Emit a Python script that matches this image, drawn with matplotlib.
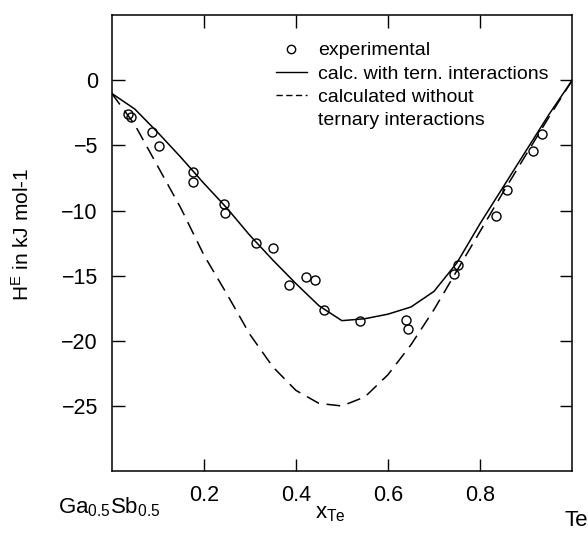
import matplotlib
matplotlib.use("Agg")
from matplotlib import pyplot as plt
from matplotlib.lines import Line2D

plt.rcParams['font.family'] = ['Liberation Sans', 'DejaVu Sans']
plt.rcParams['mathtext.default'] = 'regular'

# experimental points
x_exp = [0.035, 0.042, 0.088, 0.103, 0.177, 0.177, 0.244, 0.246, 0.314, 0.351,
         0.384, 0.422, 0.442, 0.462, 0.539, 0.640, 0.644, 0.744, 0.753, 0.834,
         0.858, 0.916, 0.935]
h_exp = [-2.6, -2.8, -4.0, -5.05, -7.0, -7.8, -9.5, -10.2, -12.5, -12.9,
         -15.7, -15.1, -15.3, -17.6, -18.5, -18.4, -19.1, -14.9, -14.2, -10.4,
         -8.4, -5.4, -4.1]

# calculated with ternary interactions
x_tern = [0, 0.05, 0.1, 0.15, 0.2, 0.25, 0.3, 0.35, 0.4, 0.45, 0.5, 0.55, 0.6,
          0.65, 0.7, 0.75, 0.8, 0.85, 0.9, 0.95, 1.0]
h_tern = [-1.0, -2.2, -4.0, -5.9, -7.9, -9.8, -11.9, -13.8, -15.6, -17.3, -18.45,
          -18.3, -17.95, -17.4, -16.2, -14.0, -11.0, -8.2, -5.4, -2.6, 0.0]

# calculated without ternary interactions
x_bin = [0, 0.05, 0.1, 0.15, 0.2, 0.25, 0.3, 0.35, 0.4, 0.45, 0.5, 0.55, 0.6,
         0.65, 0.7, 0.75, 0.8, 0.85, 0.9, 0.95, 1.0]
h_bin = [-1.0, -3.4, -6.6, -9.8, -13.4, -16.4, -19.5, -22.0, -23.8, -24.8, -25.0,
         -24.3, -22.6, -20.3, -17.6, -14.6, -11.6, -8.6, -5.7, -2.8, 0.0]

xticks = [0.2, 0.4, 0.6, 0.8]
yticks = [0, -5, -10, -15, -20, -25]

fig = plt.figure(figsize=(5.88, 5.44), dpi=100)
ax = fig.add_axes([0.19, 0.134, 0.783, 0.838])

ax.plot(x_tern, h_tern, color='black', lw=1.1)
ax.plot(x_bin, h_bin, color='black', lw=1.1, dashes=(9, 5))
ax.plot(x_exp, h_exp, 'o', mfc='none', mec='black', ms=6.5, mew=1.0)

ax.set_xlim(0, 1)
ax.set_ylim(-30, 5)
ax.set_xticks(xticks)
ax.set_yticks(yticks)
ax.set_xticklabels([str(t) for t in xticks])
ax.set_yticklabels(['0', '\u22125', '\u221210', '\u221215', '\u221220', '\u221225'])
ax.tick_params(direction='in', length=9, width=1.0, top=True, right=True,
               labelsize=15.5, pad=10)
for s in ax.spines.values():
    s.set_linewidth(1.1)

ax.set_ylabel('H$^{E}$ in kJ mol-1', fontsize=15)
ax.yaxis.set_label_coords(-0.172, 0.52)

# legend
handles = [Line2D([], [], ls='none', marker='o', mfc='none', mec='black', ms=6, mew=1.0),
           Line2D([], [], color='black', lw=1.0),
           Line2D([], [], color='black', lw=1.0, dashes=(4.5, 2.5)),
           Line2D([], [], ls='none')]
labels = ['experimental', 'calc. with tern. interactions', 'calculated without',
          'ternary interactions']
ax.legend(handles, labels, loc='upper left', bbox_to_anchor=(0.318, 0.98),
          frameon=False, fontsize=14, handlelength=1.6, handletextpad=0.6,
          labelspacing=0.28)

fig.text(109 / 588, 1 - 507 / 544, 'Ga$_{0.5}$Sb$_{0.5}$', fontsize=16,
         ha='center', va='center')
fig.text(330 / 588, 1 - 513 / 544, 'x$_{Te}$', fontsize=16, ha='center', va='center')
fig.text(576 / 588, 1 - 521 / 544, 'Te', fontsize=16, ha='center', va='center')

fig.savefig('out.png', dpi=100)
